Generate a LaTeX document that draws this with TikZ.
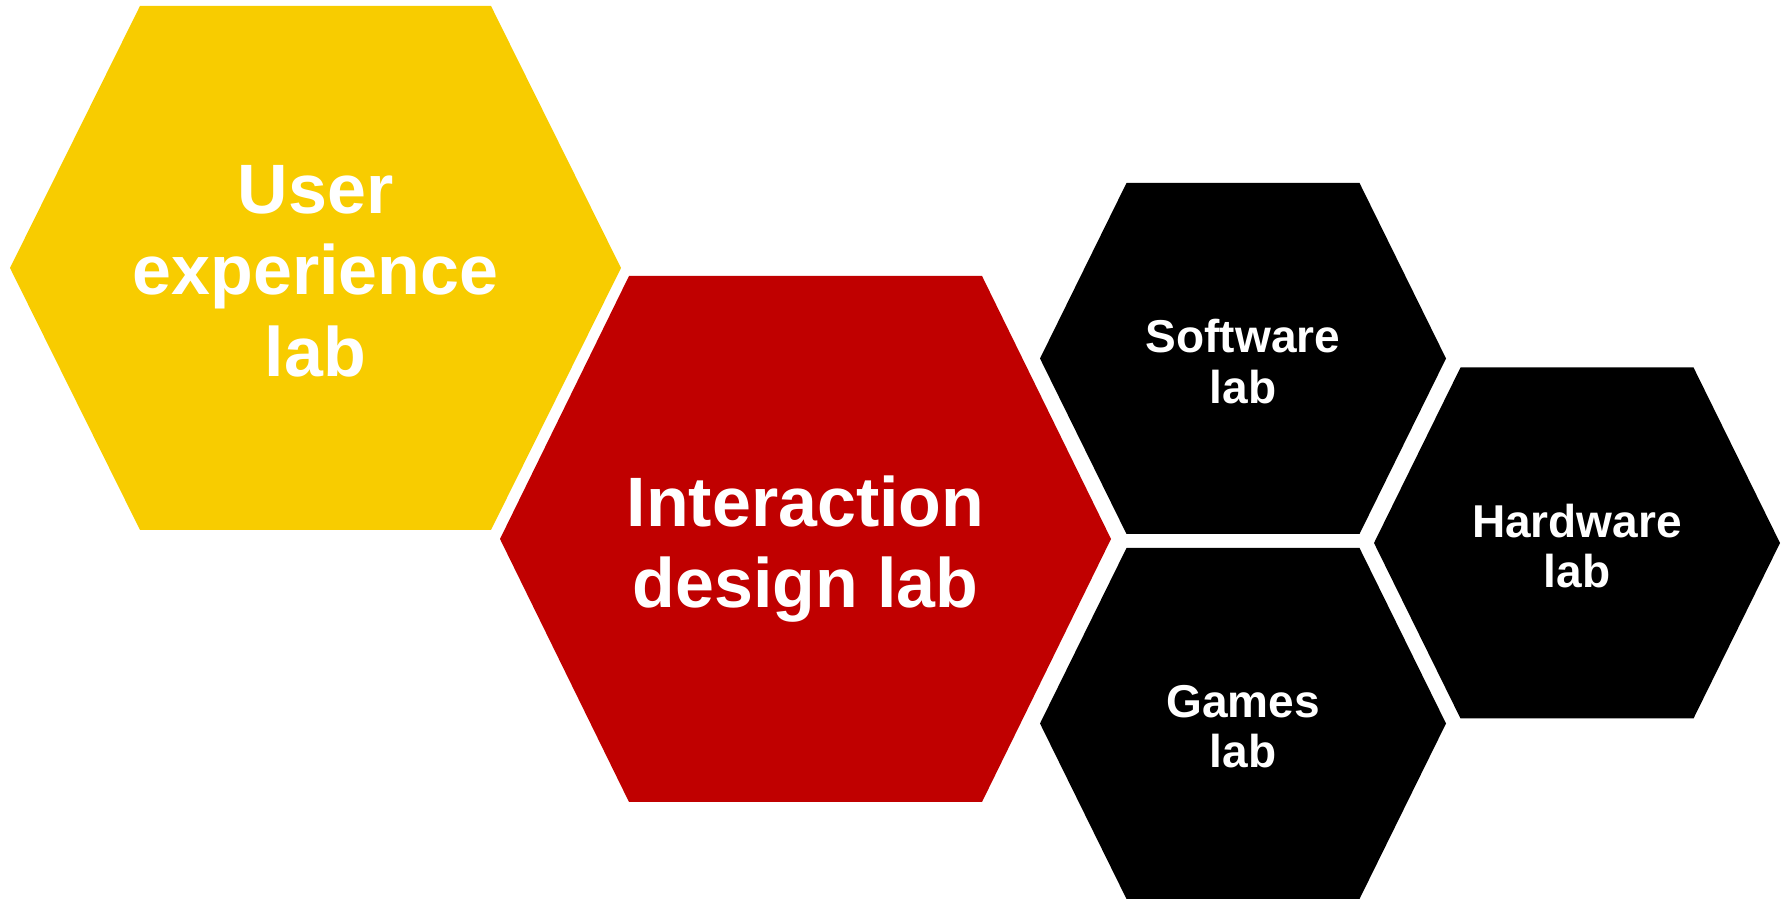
\documentclass[tikz,border=0pt]{standalone}
\usepackage{fontspec}
\setmainfont{Liberation Sans}
\definecolor{labyellow}{RGB}{248,204,0}
\definecolor{labred}{RGB}{192,0,0}
%% hexagon: centre, half width, half top edge, half height, colour
\newcommand{\labhex}[5]{\fill[#5,shift={(#1)}] (-#2,0) -- (-#3,#4) -- (#3,#4) -- (#2,0) -- (#3,-#4) -- (-#3,-#4) -- cycle;}
\tikzset{
  bigtxt/.style={text=white,font=\bfseries\fontsize{19.9}{23.2}\selectfont,align=center,inner sep=0pt},
  smalltxt/.style={text=white,font=\bfseries\fontsize{13.1}{14.4}\selectfont,align=center,inner sep=0pt}
}
\begin{document}
\begin{tikzpicture}
                \useasboundingbox (0,0) rectangle (17.9,8.99);
                %% centres
                \coordinate (ux) at (3.155,6.31);
                \coordinate (ixd) at (8.055,3.60);
                \coordinate (sw) at (12.43,5.405);
                \coordinate (gm) at (12.43,1.755);
                \coordinate (hw) at (15.77,3.56);
                %% big hexagons
                \labhex{ux}{3.055}{1.755}{2.62}{labyellow}
                \labhex{ixd}{3.055}{1.765}{2.63}{labred}
                %% small hexagons
                \labhex{sw}{2.03}{1.165}{1.755}{black}
                \labhex{gm}{2.03}{1.165}{1.755}{black}
                \labhex{hw}{2.03}{1.165}{1.755}{black}
                %% labels
                \node[bigtxt] (uxlab) at ([yshift=-0.03cm]ux) {User\\experience\\lab};
                \node[bigtxt] (ixdlab) at ([yshift=-0.1cm]ixd) {Interaction\\design lab};
                \node[smalltxt] (swlab) at ([yshift=-0.03cm]sw) {Software\\lab};
                \node[smalltxt] (gmlab) at ([yshift=-0.03cm]gm) {Games\\lab};
                \node[smalltxt] (hwlab) at ([yshift=-0.03cm]hw) {Hardware\\lab};
            \end{tikzpicture}
\end{document}
